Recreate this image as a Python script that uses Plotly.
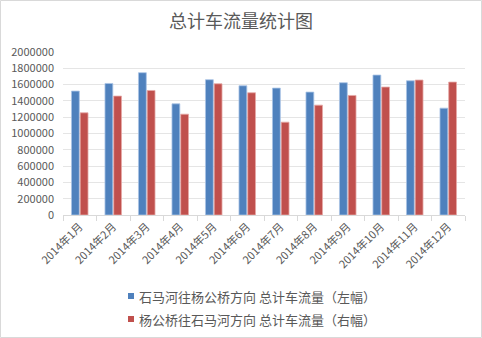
import plotly.graph_objects as go

months = ["2014年1月", "2014年2月", "2014年3月", "2014年4月", "2014年5月", "2014年6月",
          "2014年7月", "2014年8月", "2014年9月", "2014年10月", "2014年11月", "2014年12月"]
left_flow = [1520000, 1614000, 1746000, 1364000, 1660000, 1586000,
             1557000, 1508000, 1623000, 1717000, 1647000, 1311000]
right_flow = [1254000, 1459000, 1528000, 1237000, 1610000, 1500000,
              1139000, 1348000, 1467000, 1570000, 1656000, 1631000]
series_names = ["石马河往杨公桥方向 总计车流量（左幅）", "杨公桥往石马河方向 总计车流量（右幅）"]
y_ticks = list(range(0, 2000001, 200000))

W, H = 482, 338
ML, MR, MT, MB = 63, 17, 52, 10
PLOT_BOTTOM = 215          # pixel row of the value axis zero line
FONT = "Noto Sans CJK SC"
GREY = "#595959"
COLORS = ["#4f81bd", "#c0504d"]
EDGES = ["#a9c4e6", "#e6a9a7"]

pw, ph = W - ML - MR, H - MT - MB


def py(pix):
    """pixel row -> paper y coordinate"""
    return (H - MB - pix) / ph


def px(pix):
    """pixel column -> paper x coordinate"""
    return (pix - ML) / pw


fig = go.Figure()
for name, vals, col, edge in zip(series_names, [left_flow, right_flow], COLORS, EDGES):
    fig.add_trace(go.Bar(x=months, y=vals, name=name, showlegend=False,
                         marker=dict(color=col, line=dict(color=edge, width=0.8))))

# outer frame of the chart
fig.add_shape(type="rect", xref="paper", yref="paper",
              x0=px(0.5), x1=px(W - 0.5), y0=py(H - 0.5), y1=py(0.5),
              line=dict(color="#d9d9d9", width=1), fillcolor="rgba(0,0,0,0)", layer="below")

# legend: small colour square followed by the series name
for i, (name, col) in enumerate(zip(series_names, COLORS)):
    cy = 296 + 23 * i
    fig.add_shape(type="rect", xref="paper", yref="paper",
                  x0=px(128), x1=px(134), y0=py(cy + 3), y1=py(cy - 3),
                  line=dict(width=0), fillcolor=col)
    fig.add_annotation(xref="paper", yref="paper", x=px(137), y=py(cy),
                       xanchor="left", yanchor="middle", showarrow=False, text=name,
                       font=dict(size=13, color=GREY, family=FONT))

fig.update_layout(
    width=W, height=H,
    margin=dict(l=ML, r=MR, t=MT, b=MB, autoexpand=False),
    paper_bgcolor="white", plot_bgcolor="white",
    font=dict(family=FONT, color=GREY, size=11),
    title=dict(text="总计车流量统计图", x=0.5, xref="container", xanchor="center",
               y=1 - 22 / H, yanchor="middle", font=dict(size=18, color=GREY, family=FONT)),
    barmode="group", bargap=0.48, bargroupgap=0.1,
    xaxis=dict(tickangle=-45, showline=True, linecolor="#d9d9d9", ticks="outside",
               tickson="boundaries", ticklen=5, tickcolor="#d9d9d9", automargin=False,
               tickfont=dict(size=11, color=GREY, family=FONT)),
    yaxis=dict(domain=[py(PLOT_BOTTOM), 1], range=[0, 2000000], tickvals=y_ticks,
               ticktext=[str(v) for v in y_ticks], automargin=False,
               showgrid=True, gridcolor="#e5e5e5", zeroline=False, showline=False,
               ticklabelstandoff=8,
               tickfont=dict(size=11, color=GREY, family=FONT)),
)

fig.write_html("out.html")
